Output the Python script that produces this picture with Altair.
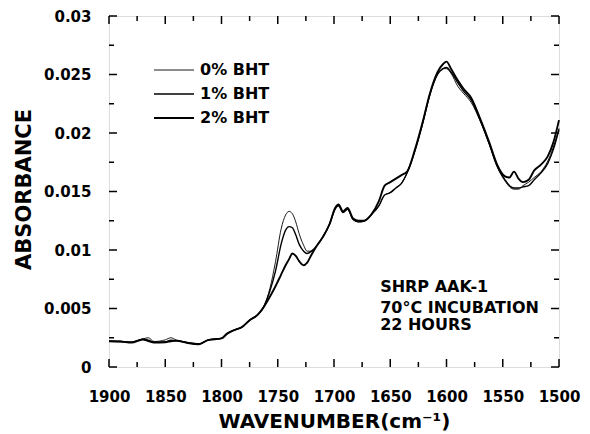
import altair as alt
import pandas as pd

# ---- data ----
wn = [1900, 1890, 1880, 1870, 1865, 1860, 1850, 1845, 1840, 1830, 1820, 1812, 1800,
      1795, 1788, 1782, 1775, 1768, 1762, 1757, 1752, 1747, 1743, 1740, 1737, 1734,
      1731, 1727, 1724, 1720, 1715, 1710, 1704, 1699, 1696, 1692, 1688, 1683, 1678,
      1673, 1667, 1660, 1655, 1650, 1645, 1640, 1635, 1628, 1621, 1615, 1608, 1603,
      1600, 1596, 1590, 1585, 1578, 1570, 1562, 1555, 1548, 1544, 1540, 1536, 1532,
      1527, 1522, 1516, 1510, 1505, 1500]

bht2 = [0.00220, 0.00218, 0.00208, 0.00235, 0.00222, 0.00210, 0.00212, 0.00220, 0.00225,
        0.00205, 0.00195, 0.00230, 0.00245, 0.00285, 0.00318, 0.00340, 0.00400, 0.00445,
        0.00520, 0.00600, 0.00690, 0.00790, 0.00870, 0.00920, 0.00970, 0.00950, 0.00905,
        0.00870, 0.00890, 0.00960, 0.01040, 0.01110, 0.01220, 0.01360, 0.01390, 0.01330,
        0.01360, 0.01270, 0.01250, 0.01250, 0.01300, 0.01420, 0.01550, 0.01580, 0.01610,
        0.01640, 0.01670, 0.01860, 0.02100, 0.02330, 0.02520, 0.02590, 0.02610, 0.02550,
        0.02450, 0.02380, 0.02300, 0.02120, 0.01920, 0.01730, 0.01630, 0.01620, 0.01670,
        0.01610, 0.01580, 0.01600, 0.01680, 0.01730, 0.01800, 0.01920, 0.02110]

bht1 = [0.00220, 0.00218, 0.00212, 0.00238, 0.00230, 0.00212, 0.00215, 0.00228, 0.00225,
        0.00207, 0.00197, 0.00230, 0.00245, 0.00285, 0.00318, 0.00340, 0.00400, 0.00445,
        0.00520, 0.00650, 0.00820, 0.01050, 0.01170, 0.01200, 0.01190, 0.01130, 0.01050,
        0.00990, 0.00970, 0.00990, 0.01040, 0.01110, 0.01220, 0.01350, 0.01380, 0.01320,
        0.01350, 0.01260, 0.01240, 0.01250, 0.01300, 0.01380, 0.01470, 0.01490, 0.01530,
        0.01570, 0.01660, 0.01850, 0.02090, 0.02320, 0.02500, 0.02550, 0.02560, 0.02520,
        0.02430, 0.02360, 0.02280, 0.02110, 0.01910, 0.01720, 0.01600, 0.01550, 0.01530,
        0.01530, 0.01540, 0.01550, 0.01600, 0.01660, 0.01740, 0.01860, 0.02030]

bht0 = [0.00222, 0.00220, 0.00215, 0.00240, 0.00250, 0.00218, 0.00232, 0.00250, 0.00230,
        0.00210, 0.00198, 0.00232, 0.00246, 0.00286, 0.00318, 0.00340, 0.00400, 0.00445,
        0.00530, 0.00670, 0.00900, 0.01180, 0.01300, 0.01330, 0.01310, 0.01240, 0.01140,
        0.01040, 0.00990, 0.00990, 0.01040, 0.01110, 0.01220, 0.01350, 0.01375, 0.01320,
        0.01345, 0.01260, 0.01240, 0.01250, 0.01300, 0.01380, 0.01470, 0.01490, 0.01530,
        0.01570, 0.01660, 0.01850, 0.02090, 0.02320, 0.02500, 0.02550, 0.02550, 0.02510,
        0.02400, 0.02340, 0.02260, 0.02100, 0.01900, 0.01710, 0.01590, 0.01540, 0.01520,
        0.01520, 0.01550, 0.01580, 0.01620, 0.01670, 0.01760, 0.01880, 0.02040]

series_names = ["0% BHT", "1% BHT", "2% BHT"]
series_values = [bht0, bht1, bht2]

x_major = [1900, 1850, 1800, 1750, 1700, 1650, 1600, 1550, 1500]
x_minor = [1875, 1825, 1775, 1725, 1675, 1625, 1575, 1525]
y_major = [0, 0.005, 0.01, 0.015, 0.02, 0.025, 0.03]
y_minor = [0.0025, 0.0075, 0.0125, 0.0175, 0.0225, 0.0275]

note_lines = ["SHRP AAK-1", "70°C INCUBATION", "22 HOURS"]
note_x = [1659, 1659, 1659]
note_y = [0.0064, 0.00462, 0.00316]

# ---- build tables ----
rows = []
for name, vals in zip(series_names, series_values):
    for i, (w, v) in enumerate(zip(wn, vals)):
        rows.append({"wavenumber": w, "absorbance": v, "series": name, "idx": i})
df = pd.DataFrame(rows)

W, H = 450, 351
FONT = "DejaVu Sans"

xscale = alt.Scale(domain=[1500, 1900], reverse=True, nice=False, zero=False)
yscale = alt.Scale(domain=[0, 0.03], nice=False)

lines = alt.Chart(df).mark_line(color="black", interpolate="monotone").encode(
    x=alt.X("wavenumber:Q", scale=xscale,
            axis=alt.Axis(values=x_major, format="d", ticks=False, domain=False, grid=False,
                          labelFont=FONT, labelFontWeight="bold", labelFontSize=15,
                          labelColor="black", labelPadding=22, labelFlush=False,
                          title="WAVENUMBER(cm⁻¹)", titleFont=FONT, titleFontWeight="bold",
                          titleFontSize=20, titleColor="black", titleX=W / 2, titleY=60,
                          titleAlign="center", titleBaseline="alphabetic")),
    y=alt.Y("absorbance:Q", scale=yscale,
            axis=alt.Axis(values=y_major, format="~g", ticks=False, domain=False, grid=False,
                          labelFont=FONT, labelFontWeight="bold", labelFontSize=15,
                          labelColor="black", labelPadding=18, labelFlush=False,
                          title="ABSORBANCE", titleFont=FONT, titleFontWeight="bold",
                          titleFontSize=21, titleColor="black", titleX=-85, titleY=173,
                          titleAngle=270, titleAlign="center", titleBaseline="middle")),
    strokeWidth=alt.StrokeWidth(
        "series:N",
        scale=alt.Scale(domain=series_names, range=[0.9, 1.9, 3.1]),
        legend=alt.Legend(title=None, orient="none", legendX=44, legendY=42,
                          symbolType="stroke", symbolSize=1600, symbolStrokeColor="black",
                          labelFont=FONT, labelFontWeight="bold", labelFontSize=16,
                          labelColor="black", labelOffset=5, clipHeight=24,
                          rowPadding=0, padding=0)),
    detail="series:N",
    order="idx:Q",
)


def tick_layer(values, field, length, side):
    d = pd.DataFrame({field: values})
    base = alt.Chart(d).mark_rule(color="black", strokeWidth=1.5)
    if side == "bottom":
        return base.encode(x=alt.X(f"{field}:Q", scale=xscale), y=alt.value(H), y2=alt.value(H - length))
    if side == "top":
        return base.encode(x=alt.X(f"{field}:Q", scale=xscale), y=alt.value(0), y2=alt.value(length))
    if side == "left":
        return base.encode(y=alt.Y(f"{field}:Q", scale=yscale), x=alt.value(0), x2=alt.value(length))
    return base.encode(y=alt.Y(f"{field}:Q", scale=yscale), x=alt.value(W), x2=alt.value(W - length))


ticks = []
for side in ["bottom", "top"]:
    ticks.append(tick_layer(x_major, "wavenumber", 8, side))
    ticks.append(tick_layer(x_minor, "wavenumber", 5, side))
for side in ["left", "right"]:
    ticks.append(tick_layer(y_major, "absorbance", 8, side))
    ticks.append(tick_layer(y_minor, "absorbance", 5, side))

notes = alt.Chart(pd.DataFrame({"wavenumber": note_x, "absorbance": note_y, "text": note_lines})).mark_text(
    align="left", baseline="alphabetic", font=FONT, fontWeight="bold", fontSize=16, color="black"
).encode(
    x=alt.X("wavenumber:Q", scale=xscale),
    y=alt.Y("absorbance:Q", scale=yscale),
    text="text:N",
)

chart = alt.layer(lines, *ticks, notes).properties(
    width=W, height=H,
    padding={"left": 101, "top": 8, "right": 23, "bottom": 66},
    autosize=alt.AutoSizeParams(type="none"),
).configure_view(stroke="black", strokeWidth=2).configure(background="white")

chart.save("out.html", embed_options={"renderer": "svg", "actions": False})
